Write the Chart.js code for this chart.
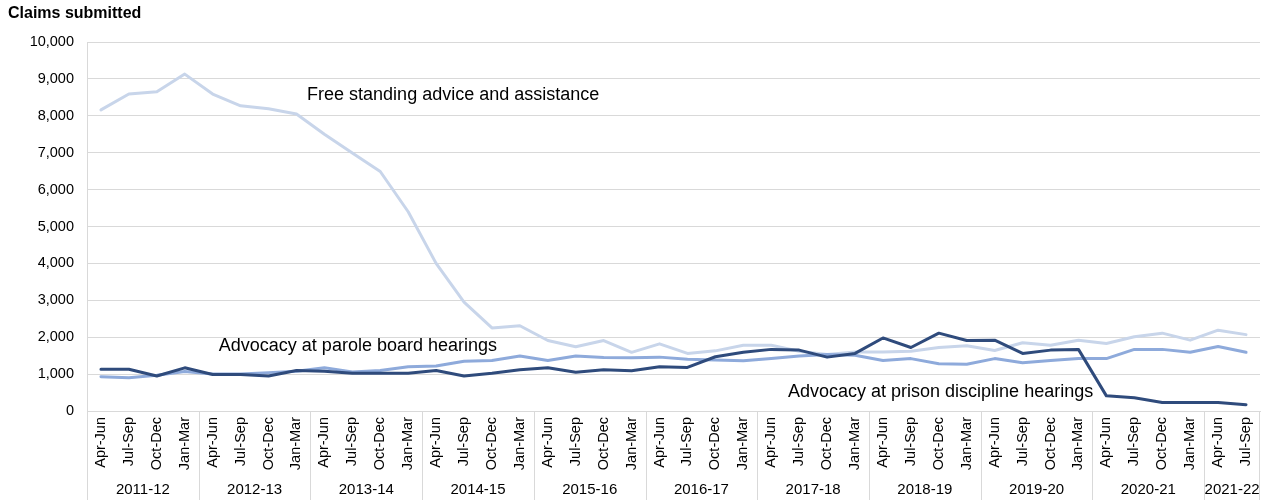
<!DOCTYPE html>
<html>
<head>
<meta charset="utf-8">
<script src="https://cdn.jsdelivr.net/npm/chart.js@4.4.1/dist/chart.umd.min.js"></script>
<style>
  html, body { margin: 0; padding: 0; background: #fff; }
  #wrap { width: 1262px; height: 500px; }
</style>
</head>
<body>
<div id="wrap"><canvas id="myChart" width="1262" height="500"></canvas></div>
<script>
// quarters and financial years
var quarters = ['Apr-Jun', 'Jul-Sep', 'Oct-Dec', 'Jan-Mar'];
var years = ['2011-12', '2012-13', '2013-14', '2014-15', '2015-16', '2016-17',
  '2017-18', '2018-19', '2019-20', '2020-21', '2021-22'];
var quartersPerYear = [4, 4, 4, 4, 4, 4, 4, 4, 4, 4, 2];

// claims submitted per quarter
var freeStanding = [8160, 8590, 8650, 9130, 8590, 8270, 8190, 8050, 7500, 6990, 6490, 5400,
  4000, 2950, 2250, 2310, 1910, 1740, 1910, 1590, 1820, 1560, 1630, 1780,
  1780, 1620, 1530, 1600, 1600, 1620, 1720, 1770, 1640, 1850, 1780, 1920,
  1830, 2010, 2110, 1920, 2190, 2070];
var paroleBoard = [930, 900, 970, 1070, 1000, 1000, 1040, 1080, 1170, 1060, 1100, 1200,
  1220, 1350, 1370, 1490, 1370, 1490, 1450, 1440, 1460, 1400, 1380, 1360,
  1420, 1490, 1530, 1510, 1370, 1420, 1280, 1265, 1420, 1310, 1370, 1420,
  1420, 1670, 1670, 1590, 1750, 1590];
var prisonDiscipline = [1130, 1130, 950, 1170, 990, 990, 950, 1100, 1080, 1020, 1020, 1020,
  1100, 950, 1020, 1120, 1170, 1050, 1120, 1090, 1200, 1180, 1470, 1590,
  1670, 1650, 1460, 1560, 1980, 1720, 2110, 1910, 1920, 1560, 1650, 1670,
  410, 360, 230, 230, 230, 170];

var yTicks = [0, 1000, 2000, 3000, 4000, 5000, 6000, 7000, 8000, 9000, 10000];

// series labels sit next to the lines: [text, category position, value]
var seriesLabels = [
  ['Free standing advice and assistance', 7.38, 8560],
  ['Advocacy at parole board hearings', 4.22, 1760],
  ['Advocacy at prison discipline hearings', 24.6, 515]
];

var labels = [];
years.forEach(function (y, i) {
  for (var q = 0; q < quartersPerYear[i]; q++) labels.push(quarters[q]);
});

var FONT = '"Liberation Sans", Arial, sans-serif';
var GRID = '#d9d9d9';

var extras = {
  id: 'extras',
  afterDraw: function (chart) {
    var ctx = chart.ctx;
    var x = chart.scales.x;
    var y = chart.scales.y;
    var step = x.getPixelForValue(1) - x.getPixelForValue(0);
    var bottom = chart.chartArea.bottom;

    ctx.save();
    ctx.fillStyle = '#000';
    ctx.textBaseline = 'middle';

    // axis title, top left
    ctx.font = 'bold 16px ' + FONT;
    ctx.textAlign = 'left';
    ctx.fillText('Claims submitted', 8, 14);

    // year separators and year labels under the quarter ticks
    ctx.strokeStyle = GRID;
    ctx.lineWidth = 1;
    ctx.font = '15px ' + FONT;
    ctx.textAlign = 'center';
    var start = 0;
    years.forEach(function (yr, i) {
      var left = x.getPixelForValue(start) - step / 2;
      var right = x.getPixelForValue(start + quartersPerYear[i] - 1) + step / 2;
      ctx.beginPath();
      ctx.moveTo(Math.round(left) + 0.5, bottom);
      ctx.lineTo(Math.round(left) + 0.5, chart.height);
      ctx.stroke();
      if (i === years.length - 1) {
        ctx.beginPath();
        ctx.moveTo(Math.round(right) - 0.5, bottom);
        ctx.lineTo(Math.round(right) - 0.5, chart.height);
        ctx.stroke();
      }
      ctx.fillText(yr, (left + right) / 2, 490);
      start += quartersPerYear[i];
    });

    // series names
    ctx.font = '18px ' + FONT;
    ctx.textAlign = 'left';
    seriesLabels.forEach(function (s) {
      ctx.fillText(s[0], x.getPixelForValue(s[1]), y.getPixelForValue(s[2]));
    });
    ctx.restore();
  }
};

new Chart(document.getElementById('myChart'), {
  type: 'line',
  data: {
    labels: labels,
    datasets: [
      {
        label: 'Advocacy at prison discipline hearings',
        data: prisonDiscipline,
        borderColor: '#2f4b7c',
        borderWidth: 3,
        order: 0
      },
      {
        label: 'Advocacy at parole board hearings',
        data: paroleBoard,
        borderColor: '#8eaadb',
        borderWidth: 3,
        order: 1
      },
      {
        label: 'Free standing advice and assistance',
        data: freeStanding,
        borderColor: '#c8d5ea',
        borderWidth: 3,
        order: 2
      }
    ]
  },
  options: {
    responsive: false,
    animation: false,
    events: [],
    elements: {
      point: { radius: 0 },
      line: { tension: 0, borderCapStyle: 'round', borderJoinStyle: 'round' }
    },
    layout: { padding: { left: 0, right: 2, top: 42, bottom: 0 } },
    plugins: {
      legend: { display: false },
      tooltip: { enabled: false },
      title: { display: false }
    },
    scales: {
      x: {
        offset: true,
        grid: { display: false, drawTicks: false },
        border: { display: true, color: GRID },
        ticks: {
          autoSkip: false,
          minRotation: 90,
          maxRotation: 90,
          padding: 6,
          color: '#000',
          font: { family: FONT, size: 14.5 }
        },
        afterFit: function (scale) {
          scale.height = 89;
          scale.paddingLeft = 0;
          scale.paddingRight = 0;
        }
      },
      y: {
        min: 0,
        max: 10000,
        afterBuildTicks: function (scale) {
          scale.ticks = yTicks.map(function (v) { return { value: v }; });
        },
        grid: { color: GRID, drawTicks: false },
        border: { display: true, color: GRID },
        ticks: {
          padding: 13,
          color: '#000',
          font: { family: FONT, size: 14.5 },
          callback: function (v) { return v.toLocaleString('en-GB'); }
        },
        afterFit: function (scale) {
          scale.width = 87;
          scale.paddingTop = 0;
          scale.paddingBottom = 0;
        }
      }
    }
  },
  plugins: [extras]
});
</script>
</body>
</html>
